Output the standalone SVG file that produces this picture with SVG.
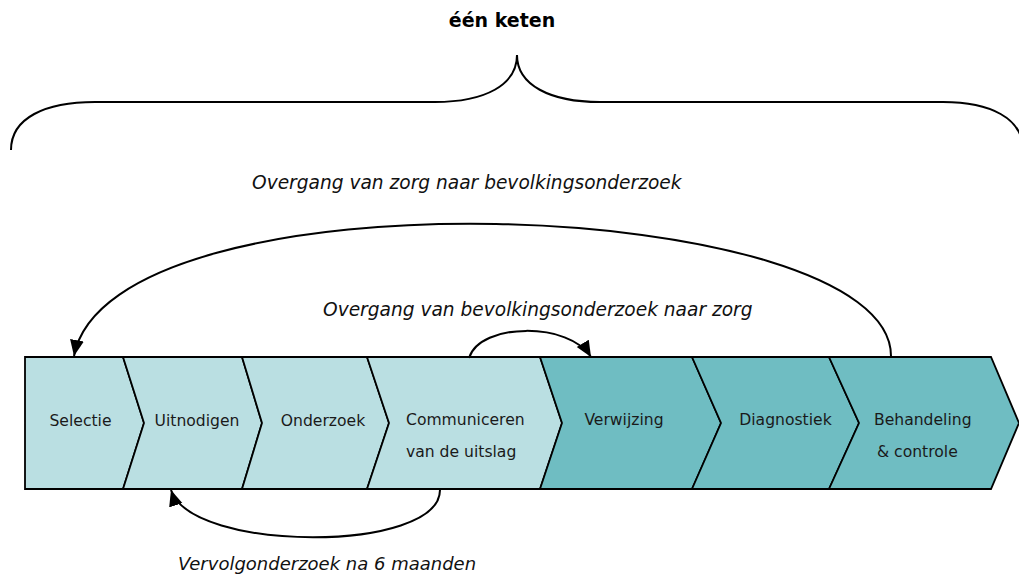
<svg xmlns="http://www.w3.org/2000/svg" width="1019" height="574" viewBox="0 0 1019 574">
<style>
.light{fill:#BADFE2;stroke:#000;stroke-width:1.8;stroke-linejoin:miter}
.dark{fill:#6FBDC2;stroke:#000;stroke-width:1.8;stroke-linejoin:miter}
.lbl{font-family:"DejaVu Sans",Verdana,sans-serif;font-size:15.6px;fill:#1a1a1a}
.it{font-family:"DejaVu Sans",Verdana,sans-serif;font-size:18.6px;font-style:italic;fill:#111}
.title{font-family:"DejaVu Sans",Verdana,sans-serif;font-size:19px;font-weight:bold;fill:#000}
.line{fill:none;stroke:#000;stroke-width:2}
</style>
<defs>
<marker id="a" markerUnits="userSpaceOnUse" markerWidth="20" markerHeight="20" refX="16" refY="7" orient="auto">
<path d="M0,0 L16,7 L0,14 Z" fill="#000"/>
</marker>
</defs>
<g id="title"><text class="title" x="502" y="27" text-anchor="middle">één keten</text></g>
<g id="brace"><path class="line" d="M11,150 C11,118 45,102 95,102 L435,102 C485,102 517,85 517,55 C517,85 550,102 600,102 L943,102 C990,102 1023,118 1023,150"/></g>
<g id="chevrons">
<g id="selectie"><path class="light" d="M25,357 L123,357 L144,423 L123,489 L25,489 Z"/><text class="lbl" x="80.5" y="426" text-anchor="middle">Selectie</text></g>
<g id="uitnodigen"><path class="light" d="M123,357 L242,357 L262,423 L242,489 L123,489 L144,423 Z"/><text class="lbl" x="197" y="426" text-anchor="middle">Uitnodigen</text></g>
<g id="onderzoek"><path class="light" d="M242,357 L367,357 L389,423 L367,489 L242,489 L262,423 Z"/><text class="lbl" x="323" y="426" text-anchor="middle">Onderzoek</text></g>
<g id="communiceren"><path class="light" d="M367,357 L540,357 L562,423 L540,489 L367,489 L389,423 Z"/><text class="lbl" x="406" y="425">Communiceren</text><text class="lbl" x="406" y="457">van de uitslag</text></g>
<g id="verwijzing"><path class="dark" d="M540,357 L692,357 L721,423 L692,489 L540,489 L562,423 Z"/><text class="lbl" x="624" y="425" text-anchor="middle">Verwijzing</text></g>
<g id="diagnostiek"><path class="dark" d="M692,357 L829,357 L859,423 L829,489 L692,489 L721,423 Z"/><text class="lbl" x="785.5" y="425" text-anchor="middle">Diagnostiek</text></g>
<g id="behandeling"><path class="dark" d="M829,357 L991,357 L1019,423 L991,489 L829,489 L859,423 Z"/><text class="lbl" x="874" y="425">Behandeling</text><text class="lbl" x="877" y="457">&amp; controle</text></g>
</g>
<g id="connectors">
<path class="line" d="M891,356 C891,195 110,165 74,356" marker-end="url(#a)"/>
<path class="line" d="M469,358 C480,322 570,322 591,357" marker-end="url(#a)"/>
<path class="line" d="M440,490 C440,553 191,553 171,490" marker-end="url(#a)"/>
</g>
<g id="labels">
<text class="it" x="252" y="189">Overgang van zorg naar bevolkingsonderzoek</text>
<text class="it" x="323" y="316">Overgang van bevolkingsonderzoek naar zorg</text>
<text class="it" x="178" y="570" style="font-size:18px">Vervolgonderzoek na 6 maanden</text>
</g>
</svg>
